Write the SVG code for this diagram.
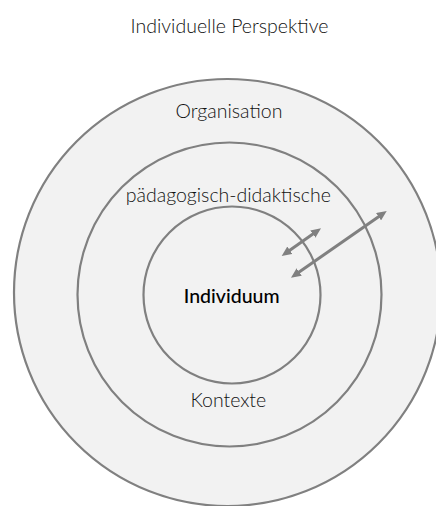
<svg xmlns="http://www.w3.org/2000/svg" width="436" height="506" viewBox="0 0 436 506">
<style>
.ring{fill:#f2f2f2;stroke:#808080;stroke-width:2.2}
.lbl{font-family:Lato,"Liberation Sans",sans-serif;font-size:19.5px;font-weight:300;fill:#111;text-anchor:middle}
.core{font-family:Lato,"Liberation Sans",sans-serif;font-size:19.5px;font-weight:500;fill:#000;text-anchor:middle}
.conn{stroke:#808080;stroke-width:3;fill:none;marker-start:url(#ah);marker-end:url(#ah)}
</style>
<defs>
<marker id="ah" markerUnits="userSpaceOnUse" markerWidth="10" markerHeight="9" refX="4" refY="4.5" orient="auto-start-reverse">
<path d="M0,0 L10,4.5 L0,9 z" fill="#808080"/>
</marker>
</defs>
<rect width="436" height="506" fill="#ffffff"/>
<text class="lbl" x="229.5" y="32.7">Individuelle Perspektive</text>
<g id="organisation">
<circle class="ring" cx="227.5" cy="292.5" r="213.5"/>
<text class="lbl" x="229" y="118.3">Organisation</text>
</g>
<g id="kontexte">
<circle class="ring" cx="229.5" cy="294.5" r="152"/>
<text class="lbl" x="228.3" y="201.7">pädagogisch-didaktische</text>
<text class="lbl" x="228.3" y="406.7">Kontexte</text>
</g>
<g id="individuum">
<circle class="ring" cx="232" cy="295" r="88.5"/>
<text class="core" x="231.7" y="303.3">Individuum</text>
</g>
<g id="connectors">
<line class="conn" x1="286.6" y1="252.5" x2="316.1" y2="231.8"/>
<line class="conn" x1="295.9" y1="274.3" x2="381.8" y2="214.4"/>
</g>
</svg>
